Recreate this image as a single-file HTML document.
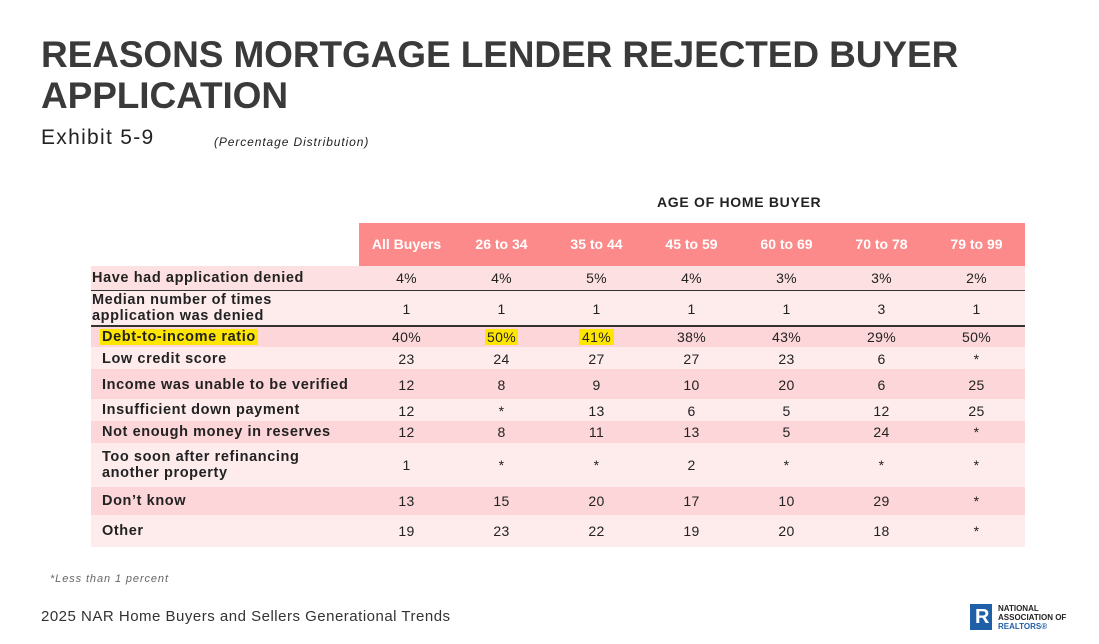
<!DOCTYPE html>
<html><head><style>
body{margin:0;width:1099px;height:644px;background:#fff;font-family:"Liberation Sans",sans-serif;position:relative;overflow:hidden;color:#222}
.a{position:absolute}
.t{left:41px;top:34px;font-size:37px;font-weight:bold;line-height:41px;color:#3a3a3a;letter-spacing:-0.1px}
.lab{position:absolute;font-size:14.5px;font-weight:bold;color:#222;line-height:16px;letter-spacing:0.6px}
.hl{background:#ffe600}
.c{position:absolute;width:95px;text-align:center;letter-spacing:0.3px}
</style></head><body>
<div class="a t">REASONS MORTGAGE LENDER REJECTED BUYER<br>APPLICATION</div>
<div class="a" style="left:41px;top:126px;font-size:21px;color:#222;letter-spacing:1.3px">Exhibit 5-9</div>
<div class="a" style="left:214px;top:135px;font-size:12px;font-style:italic;letter-spacing:0.9px">(Percentage Distribution)</div>
<div class="a" style="left:657px;top:194px;font-size:14px;font-weight:bold;letter-spacing:0.7px">AGE OF HOME BUYER</div>
<div class="a" style="left:359px;top:223px;width:666px;height:43px;background:#fd8a8a"></div>
<div class="a" style="left:359px;top:236px;width:666px;color:#fff;font-size:14px;font-weight:bold">
<span class="a" style="left:0;width:95px;text-align:center">All Buyers</span><span class="a" style="left:95px;width:95px;text-align:center">26 to 34</span><span class="a" style="left:190px;width:95px;text-align:center">35 to 44</span><span class="a" style="left:285px;width:95px;text-align:center">45 to 59</span><span class="a" style="left:380px;width:95px;text-align:center">60 to 69</span><span class="a" style="left:475px;width:95px;text-align:center">70 to 78</span><span class="a" style="left:570px;width:95px;text-align:center">79 to 99</span></div>

<div class="a" style="left:91px;top:266px;width:934px;height:24px;background:#fde0e1"></div>
<div class="a" style="left:91px;top:290px;width:934px;height:1.5px;background:#333"></div>
<div class="a" style="left:91px;top:291px;width:934px;height:34px;background:#feeced"></div>
<div class="a" style="left:91px;top:325px;width:934px;height:1.5px;background:#333"></div>
<div class="a" style="left:91px;top:327px;width:934px;height:20px;background:#fcd6d8"></div>
<div class="a" style="left:91px;top:347px;width:934px;height:22px;background:#feeced"></div>
<div class="a" style="left:91px;top:369px;width:934px;height:30px;background:#fcd6d8"></div>
<div class="a" style="left:91px;top:399px;width:934px;height:22px;background:#feeced"></div>
<div class="a" style="left:91px;top:421px;width:934px;height:22px;background:#fcd6d8"></div>
<div class="a" style="left:91px;top:443px;width:934px;height:44px;background:#feeced"></div>
<div class="a" style="left:91px;top:487px;width:934px;height:28px;background:#fcd6d8"></div>
<div class="a" style="left:91px;top:515px;width:934px;height:32px;background:#feeced"></div>

<div class="lab" style="left:92px;top:270px">Have had application denied</div>
<div class="lab" style="left:92px;top:292px">Median number of times<br>application was denied</div>
<div class="lab" style="left:100px;top:329px"><span class="hl" style="padding:0 2px">Debt-to-income ratio</span></div>
<div class="lab" style="left:102px;top:351px">Low credit score</div>
<div class="lab" style="left:102px;top:377px">Income was unable to be verified</div>
<div class="lab" style="left:102px;top:402px">Insufficient down payment</div>
<div class="lab" style="left:102px;top:424px">Not enough money in reserves</div>
<div class="lab" style="left:102px;top:449px">Too soon after refinancing<br>another property</div>
<div class="lab" style="left:102px;top:493px">Don’t know</div>
<div class="lab" style="left:102px;top:523px">Other</div>

<div class="a" style="left:359px;top:0;width:666px;font-size:14px">
<div class="c" style="left:0;top:270px">4%</div><div class="c" style="left:95px;top:270px">4%</div><div class="c" style="left:190px;top:270px">5%</div><div class="c" style="left:285px;top:270px">4%</div><div class="c" style="left:380px;top:270px">3%</div><div class="c" style="left:475px;top:270px">3%</div><div class="c" style="left:570px;top:270px">2%</div>
<div class="c" style="left:0;top:301px">1</div><div class="c" style="left:95px;top:301px">1</div><div class="c" style="left:190px;top:301px">1</div><div class="c" style="left:285px;top:301px">1</div><div class="c" style="left:380px;top:301px">1</div><div class="c" style="left:475px;top:301px">3</div><div class="c" style="left:570px;top:301px">1</div>
<div class="c" style="left:0;top:329px">40%</div><div class="c" style="left:95px;top:329px"><span class="hl" style="padding:0 2px">50%</span></div><div class="c" style="left:190px;top:329px"><span class="hl" style="padding:0 3px">41%</span></div><div class="c" style="left:285px;top:329px">38%</div><div class="c" style="left:380px;top:329px">43%</div><div class="c" style="left:475px;top:329px">29%</div><div class="c" style="left:570px;top:329px">50%</div>
<div class="c" style="left:0;top:351px">23</div><div class="c" style="left:95px;top:351px">24</div><div class="c" style="left:190px;top:351px">27</div><div class="c" style="left:285px;top:351px">27</div><div class="c" style="left:380px;top:351px">23</div><div class="c" style="left:475px;top:351px">6</div><div class="c" style="left:570px;top:351px">*</div>
<div class="c" style="left:0;top:377px">12</div><div class="c" style="left:95px;top:377px">8</div><div class="c" style="left:190px;top:377px">9</div><div class="c" style="left:285px;top:377px">10</div><div class="c" style="left:380px;top:377px">20</div><div class="c" style="left:475px;top:377px">6</div><div class="c" style="left:570px;top:377px">25</div>
<div class="c" style="left:0;top:403px">12</div><div class="c" style="left:95px;top:403px">*</div><div class="c" style="left:190px;top:403px">13</div><div class="c" style="left:285px;top:403px">6</div><div class="c" style="left:380px;top:403px">5</div><div class="c" style="left:475px;top:403px">12</div><div class="c" style="left:570px;top:403px">25</div>
<div class="c" style="left:0;top:424px">12</div><div class="c" style="left:95px;top:424px">8</div><div class="c" style="left:190px;top:424px">11</div><div class="c" style="left:285px;top:424px">13</div><div class="c" style="left:380px;top:424px">5</div><div class="c" style="left:475px;top:424px">24</div><div class="c" style="left:570px;top:424px">*</div>
<div class="c" style="left:0;top:457px">1</div><div class="c" style="left:95px;top:457px">*</div><div class="c" style="left:190px;top:457px">*</div><div class="c" style="left:285px;top:457px">2</div><div class="c" style="left:380px;top:457px">*</div><div class="c" style="left:475px;top:457px">*</div><div class="c" style="left:570px;top:457px">*</div>
<div class="c" style="left:0;top:493px">13</div><div class="c" style="left:95px;top:493px">15</div><div class="c" style="left:190px;top:493px">20</div><div class="c" style="left:285px;top:493px">17</div><div class="c" style="left:380px;top:493px">10</div><div class="c" style="left:475px;top:493px">29</div><div class="c" style="left:570px;top:493px">*</div>
<div class="c" style="left:0;top:523px">19</div><div class="c" style="left:95px;top:523px">23</div><div class="c" style="left:190px;top:523px">22</div><div class="c" style="left:285px;top:523px">19</div><div class="c" style="left:380px;top:523px">20</div><div class="c" style="left:475px;top:523px">18</div><div class="c" style="left:570px;top:523px">*</div>
</div>

<div class="a" style="left:50px;top:573px;font-size:11px;font-style:italic;color:#666;letter-spacing:0.9px">*Less than 1 percent</div>
<div class="a" style="left:41px;top:608px;font-size:15px;color:#333;letter-spacing:0.5px">2025 NAR Home Buyers and Sellers Generational Trends</div>
<div class="a" style="left:970px;top:604px;width:22px;height:26px;background:#1f5fa8"></div>
<div class="a" style="left:975px;top:606px;color:#fff;font-weight:bold;font-size:20px;line-height:22px">R</div>
<div class="a" style="left:998px;top:604px;font-size:8px;font-weight:bold;line-height:9px;color:#222">NATIONAL<br>ASSOCIATION OF<br><span style="color:#1f5fa8">REALTORS®</span></div>
</body></html>
